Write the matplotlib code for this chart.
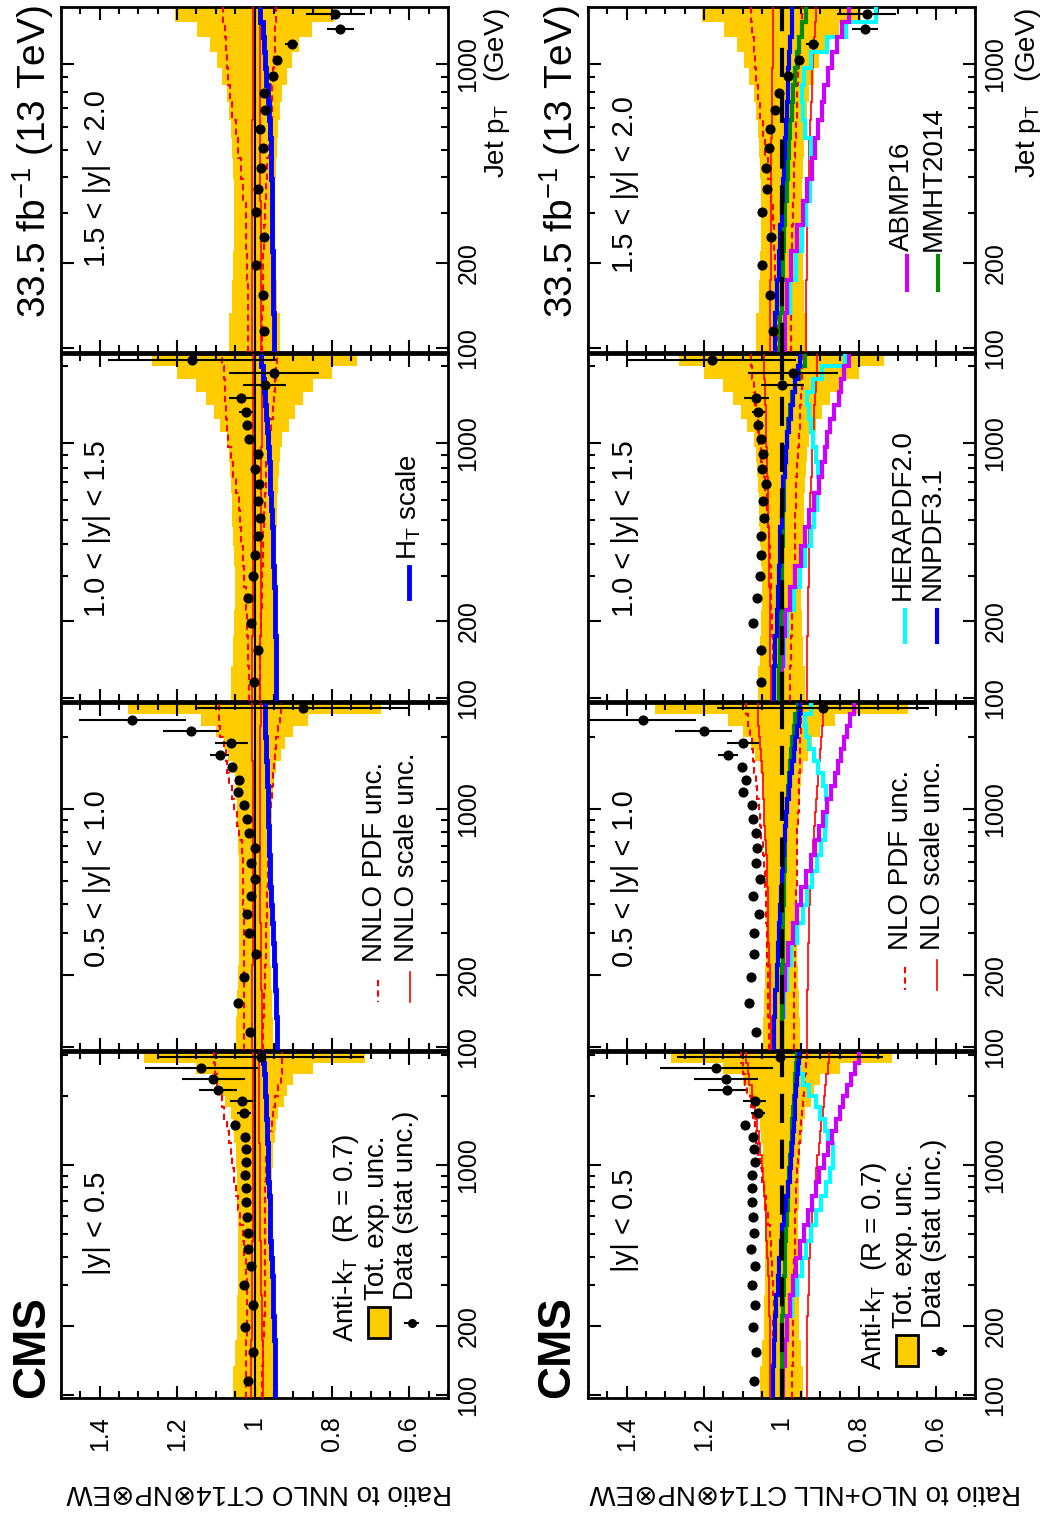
import numpy as np
import matplotlib
matplotlib.use("Agg")
import matplotlib.pyplot as plt
from matplotlib.patches import Rectangle
from matplotlib.ticker import FixedLocator, FixedFormatter, NullFormatter

plt.rcParams['font.family'] = ['Liberation Sans', 'DejaVu Sans']
plt.rcParams['mathtext.default'] = 'regular'

# jet pT bin edges (GeV); rapidity bin k uses the first len(data)+1 edges
pt_edges = [97, 133, 174, 220, 272, 330, 395, 468, 548, 638, 737, 846, 967,
            1101, 1248, 1410, 1588, 1784, 2000, 2238, 2500, 2787, 3103]
pt_max = [3103, 2787, 2238, 1588]
rap_labels = ['|y| < 0.5', '0.5 < |y| < 1.0', '1.0 < |y| < 1.5', '1.5 < |y| < 2.0']

# ---- total experimental uncertainty (half width) and stat unc. of data
band_1 = [0.055, 0.050, 0.046, 0.044, 0.043, 0.042, 0.042, 0.042, 0.043, 0.044, 0.045,
          0.046, 0.047, 0.049, 0.052, 0.056, 0.062, 0.075, 0.085, 0.100, 0.150, 0.285]
band_2 = [0.048, 0.046, 0.043, 0.041, 0.040, 0.040, 0.040, 0.040, 0.041, 0.042, 0.043,
          0.044, 0.046, 0.048, 0.050, 0.056, 0.068, 0.080, 0.100, 0.138, 0.327]
band_3 = [0.060, 0.055, 0.052, 0.050, 0.050, 0.052, 0.055, 0.057, 0.059, 0.060, 0.063,
          0.066, 0.070, 0.088, 0.105, 0.125, 0.150, 0.200, 0.265]
band_4 = [0.066, 0.058, 0.055, 0.054, 0.054, 0.054, 0.055, 0.057, 0.060, 0.066, 0.072,
          0.085, 0.097, 0.115, 0.148, 0.205]
stat_1 = [0.001, 0.001, 0.001, 0.001, 0.001, 0.001, 0.001, 0.001, 0.001, 0.002, 0.002,
          0.003, 0.003, 0.004, 0.005, 0.007, 0.018, 0.030, 0.049, 0.082, 0.145, 0.266]
stat_2 = [0.001, 0.001, 0.001, 0.001, 0.001, 0.001, 0.001, 0.001, 0.002, 0.002, 0.002,
          0.003, 0.003, 0.004, 0.005, 0.008, 0.025, 0.042, 0.073, 0.138, 0.273]
stat_3 = [0.001, 0.001, 0.001, 0.001, 0.001, 0.002, 0.002, 0.002, 0.002, 0.003, 0.003,
          0.004, 0.005, 0.008, 0.017, 0.032, 0.056, 0.116, 0.217]
stat_4 = [0.001, 0.001, 0.001, 0.002, 0.002, 0.002, 0.002, 0.003, 0.003, 0.004, 0.005,
          0.007, 0.010, 0.017, 0.034, 0.077]

# ---- ratio to NNLO CT14 (top row of original = left column here)
nnlo_data_1 = [1.018, 1.003, 1.024, 1.005, 1.027, 1.010, 1.017, 1.018, 1.020, 1.023, 1.023,
               1.024, 1.023, 1.023, 1.024, 1.050, 1.027, 1.033, 1.094, 1.106, 1.137, 0.984]
nnlo_data_2 = [1.011, 1.043, 1.026, 0.996, 1.015, 1.020, 1.008, 1.000, 1.009, 0.998, 1.015,
               1.020, 1.026, 1.043, 1.040, 1.059, 1.090, 1.060, 1.164, 1.316, 0.875]
nnlo_data_3 = [1.002, 0.990, 1.010, 1.016, 1.004, 1.000, 0.990, 0.987, 0.990, 0.989, 1.000,
               0.990, 1.013, 1.020, 1.022, 1.034, 0.974, 0.950, 1.161]
nnlo_data_4 = [0.976, 0.978, 0.997, 0.976, 0.996, 0.991, 0.982, 0.978, 0.986, 0.972, 0.976,
               0.953, 0.941, 0.904, 0.778, 0.791]

nnlo_pdf_up_1 = [1.023, 1.022, 1.020, 1.019, 1.019, 1.022, 1.026, 1.030, 1.037, 1.043, 1.047,
                 1.053, 1.058, 1.062, 1.066, 1.071, 1.079, 1.085, 1.092, 1.098, 1.102, 1.105]
nnlo_pdf_dn_1 = [0.980, 0.978, 0.976, 0.974, 0.973, 0.972, 0.972, 0.972, 0.972, 0.972, 0.972,
                 0.971, 0.969, 0.966, 0.962, 0.956, 0.951, 0.946, 0.939, 0.932, 0.930, 0.929]
nnlo_pdf_up_2 = [1.026, 1.026, 1.027, 1.027, 1.028, 1.028, 1.029, 1.030, 1.030, 1.033, 1.040,
                 1.046, 1.053, 1.059, 1.065, 1.070, 1.074, 1.080, 1.088, 1.091, 1.092]
nnlo_pdf_dn_2 = [0.977, 0.975, 0.973, 0.971, 0.969, 0.968, 0.967, 0.966, 0.965, 0.964, 0.962,
                 0.960, 0.957, 0.955, 0.953, 0.950, 0.947, 0.944, 0.940, 0.935, 0.931]
nnlo_pdf_up_3 = [1.013, 1.017, 1.020, 1.023, 1.026, 1.030, 1.034, 1.037, 1.040, 1.047, 1.055,
                 1.062, 1.069, 1.071, 1.073, 1.075, 1.077, 1.080, 1.083]
nnlo_pdf_dn_3 = [0.987, 0.985, 0.983, 0.981, 0.980, 0.979, 0.977, 0.975, 0.973, 0.971, 0.969,
                 0.965, 0.960, 0.957, 0.953, 0.950, 0.947, 0.944, 0.942]
nnlo_pdf_up_4 = [1.016, 1.018, 1.019, 1.021, 1.023, 1.029, 1.036, 1.042, 1.049, 1.058, 1.064,
                 1.068, 1.071, 1.074, 1.077, 1.082]
nnlo_pdf_dn_4 = [0.980, 0.979, 0.977, 0.976, 0.973, 0.970, 0.967, 0.963, 0.959, 0.956, 0.954,
                 0.952, 0.950, 0.948, 0.946, 0.944]

nnlo_sc_up_1 = [1.008, 1.008, 1.007, 1.007, 1.006, 1.006, 1.006, 1.005, 1.005, 1.005, 1.005,
                1.004, 1.004, 1.004, 1.004, 1.004, 1.004, 1.004, 1.004, 1.004, 1.004, 1.004]
nnlo_sc_dn_1 = [0.978, 0.979, 0.980, 0.981, 0.982, 0.983, 0.984, 0.985, 0.985, 0.986, 0.986,
                0.987, 0.987, 0.987, 0.988, 0.988, 0.988, 0.988, 0.988, 0.988, 0.988, 0.988]
nnlo_sc_up_2 = [1.006, 1.006, 1.006, 1.005, 1.005, 1.005, 1.005, 1.005, 1.005, 1.005, 1.005,
                1.005, 1.005, 1.005, 1.005, 1.005, 1.006, 1.006, 1.006, 1.006, 1.006]
nnlo_sc_dn_2 = [0.980, 0.981, 0.982, 0.983, 0.984, 0.985, 0.986, 0.986, 0.987, 0.987, 0.987,
                0.987, 0.987, 0.987, 0.986, 0.986, 0.986, 0.985, 0.985, 0.984, 0.984]
nnlo_sc_up_3 = [1.006, 1.006, 1.005, 1.005, 1.005, 1.005, 1.005, 1.004, 1.004, 1.004, 1.004,
                1.004, 1.004, 1.004, 1.004, 1.004, 1.004, 1.004, 1.004]
nnlo_sc_dn_3 = [0.985, 0.985, 0.984, 0.984, 0.984, 0.983, 0.983, 0.983, 0.983, 0.982, 0.982,
                0.982, 0.981, 0.981, 0.981, 0.980, 0.980, 0.979, 0.979]
nnlo_sc_up_4 = [1.006, 1.006, 1.006, 1.006, 1.006, 1.006, 1.006, 1.006, 1.006, 1.005, 1.005,
                1.005, 1.005, 1.005, 1.005, 1.005]
nnlo_sc_dn_4 = [0.983, 0.983, 0.984, 0.984, 0.984, 0.985, 0.985, 0.985, 0.985, 0.986, 0.986,
                0.986, 0.986, 0.987, 0.987, 0.987]

ht_1 = [0.946, 0.947, 0.949, 0.951, 0.953, 0.955, 0.957, 0.959, 0.960, 0.961, 0.963,
        0.964, 0.965, 0.966, 0.967, 0.968, 0.969, 0.971, 0.972, 0.974, 0.976, 0.977]
ht_2 = [0.942, 0.945, 0.947, 0.949, 0.952, 0.955, 0.957, 0.959, 0.961, 0.962, 0.963,
        0.964, 0.965, 0.966, 0.967, 0.968, 0.970, 0.971, 0.972, 0.973, 0.974]
ht_3 = [0.944, 0.945, 0.946, 0.948, 0.950, 0.952, 0.953, 0.955, 0.958, 0.960, 0.961,
        0.963, 0.966, 0.968, 0.970, 0.972, 0.975, 0.978, 0.983]
ht_4 = [0.950, 0.952, 0.953, 0.954, 0.955, 0.956, 0.957, 0.958, 0.959, 0.962, 0.966,
        0.970, 0.972, 0.975, 0.978, 0.985]

# ---- ratio to NLO+NLL CT14 (bottom row of original = right column here)
nlo_data_1 = [1.070, 1.066, 1.073, 1.069, 1.077, 1.069, 1.080, 1.071, 1.073, 1.075, 1.075,
              1.077, 1.069, 1.071, 1.073, 1.095, 1.060, 1.069, 1.141, 1.143, 1.168, 1.003]
nlo_data_2 = [1.067, 1.084, 1.080, 1.072, 1.072, 1.059, 1.073, 1.056, 1.066, 1.063, 1.067,
              1.073, 1.076, 1.100, 1.091, 1.102, 1.138, 1.099, 1.201, 1.358, 0.893]
nlo_data_3 = [1.054, 1.054, 1.073, 1.063, 1.056, 1.053, 1.052, 1.046, 1.048, 1.041, 1.050,
              1.047, 1.053, 1.060, 1.060, 1.065, 0.998, 0.970, 1.179]
nlo_data_4 = [1.023, 1.031, 1.051, 1.027, 1.051, 1.038, 1.040, 1.033, 1.029, 1.018, 1.007,
              0.983, 0.954, 0.919, 0.785, 0.780]

nlo_pdf_up_1 = [1.025, 1.023, 1.021, 1.020, 1.022, 1.025, 1.028, 1.031, 1.036, 1.040, 1.045,
                1.050, 1.055, 1.060, 1.065, 1.069, 1.074, 1.080, 1.089, 1.095, 1.100, 1.104]
nlo_pdf_dn_1 = [0.972, 0.971, 0.970, 0.969, 0.968, 0.967, 0.966, 0.965, 0.964, 0.963, 0.962,
                0.960, 0.958, 0.955, 0.953, 0.950, 0.948, 0.945, 0.942, 0.939, 0.937, 0.935]
nlo_pdf_up_2 = [1.033, 1.034, 1.036, 1.037, 1.038, 1.040, 1.041, 1.043, 1.046, 1.049, 1.052,
                1.055, 1.059, 1.063, 1.066, 1.070, 1.073, 1.077, 1.082, 1.087, 1.091]
nlo_pdf_dn_2 = [0.968, 0.967, 0.966, 0.965, 0.964, 0.963, 0.962, 0.961, 0.961, 0.960, 0.959,
                0.958, 0.956, 0.955, 0.954, 0.953, 0.952, 0.951, 0.950, 0.949, 0.948]
nlo_pdf_up_3 = [1.020, 1.023, 1.025, 1.027, 1.028, 1.030, 1.032, 1.035, 1.038, 1.042, 1.046,
                1.052, 1.059, 1.062, 1.065, 1.068, 1.072, 1.076, 1.079]
nlo_pdf_dn_3 = [0.977, 0.975, 0.973, 0.970, 0.968, 0.966, 0.965, 0.964, 0.963, 0.962, 0.960,
                0.957, 0.955, 0.953, 0.951, 0.950, 0.948, 0.947, 0.945]
nlo_pdf_up_4 = [1.011, 1.013, 1.016, 1.019, 1.023, 1.028, 1.036, 1.043, 1.049, 1.055, 1.060,
                1.065, 1.069, 1.072, 1.075, 1.079]
nlo_pdf_dn_4 = [0.976, 0.975, 0.973, 0.972, 0.970, 0.968, 0.967, 0.965, 0.963, 0.961, 0.959,
                0.957, 0.954, 0.952, 0.950, 0.948]

nlo_sc_up_1 = [1.029, 1.030, 1.031, 1.032, 1.033, 1.035, 1.037, 1.039, 1.040, 1.042, 1.045,
               1.048, 1.051, 1.055, 1.058, 1.063, 1.068, 1.073, 1.077, 1.083, 1.087, 1.091]
nlo_sc_dn_1 = [0.935, 0.935, 0.934, 0.932, 0.930, 0.928, 0.926, 0.923, 0.921, 0.918, 0.914,
               0.910, 0.907, 0.904, 0.900, 0.897, 0.894, 0.891, 0.888, 0.884, 0.880, 0.877]
nlo_sc_up_2 = [1.028, 1.030, 1.031, 1.033, 1.034, 1.035, 1.036, 1.037, 1.038, 1.041, 1.043,
               1.044, 1.045, 1.047, 1.049, 1.051, 1.054, 1.056, 1.058, 1.060, 1.061]
nlo_sc_dn_2 = [0.934, 0.933, 0.932, 0.931, 0.930, 0.928, 0.927, 0.924, 0.921, 0.918, 0.915,
               0.913, 0.910, 0.907, 0.905, 0.902, 0.900, 0.898, 0.896, 0.894, 0.892]
nlo_sc_up_3 = [1.028, 1.029, 1.030, 1.031, 1.032, 1.033, 1.033, 1.034, 1.035, 1.036, 1.037,
               1.038, 1.039, 1.040, 1.041, 1.042, 1.043, 1.044, 1.045]
nlo_sc_dn_3 = [0.934, 0.933, 0.932, 0.931, 0.930, 0.929, 0.928, 0.927, 0.926, 0.924, 0.922,
               0.920, 0.918, 0.916, 0.915, 0.913, 0.911, 0.909, 0.908]
nlo_sc_up_4 = [1.029, 1.029, 1.028, 1.028, 1.027, 1.027, 1.026, 1.026, 1.025, 1.025, 1.024,
               1.024, 1.023, 1.023, 1.022, 1.021]
nlo_sc_dn_4 = [0.937, 0.936, 0.935, 0.935, 0.933, 0.932, 0.930, 0.928, 0.926, 0.924, 0.922,
               0.920, 0.918, 0.915, 0.913, 0.912]

hera_1 = [1.000, 0.997, 0.985, 0.972, 0.959, 0.947, 0.937, 0.923, 0.910, 0.897, 0.884,
          0.875, 0.868, 0.868, 0.880, 0.888, 0.901, 0.910, 0.930, 0.945, 0.954, 0.959]
hera_2 = [0.998, 0.994, 0.985, 0.975, 0.960, 0.945, 0.933, 0.920, 0.908, 0.897, 0.888,
          0.884, 0.882, 0.885, 0.893, 0.905, 0.916, 0.928, 0.937, 0.940, 0.925]
hera_3 = [1.005, 0.994, 0.985, 0.967, 0.953, 0.938, 0.925, 0.916, 0.908, 0.904, 0.905,
          0.910, 0.918, 0.925, 0.929, 0.933, 0.918, 0.895, 0.835]
hera_4 = [0.990, 0.978, 0.962, 0.948, 0.936, 0.926, 0.921, 0.925, 0.940, 0.945, 0.947,
          0.943, 0.925, 0.882, 0.833, 0.757]

abmp_1 = [0.995, 0.990, 0.985, 0.978, 0.970, 0.963, 0.953, 0.943, 0.932, 0.922, 0.912,
          0.902, 0.890, 0.880, 0.870, 0.860, 0.850, 0.840, 0.830, 0.820, 0.810, 0.800]
abmp_2 = [1.000, 0.997, 0.992, 0.982, 0.970, 0.960, 0.950, 0.937, 0.925, 0.913, 0.902,
          0.893, 0.883, 0.873, 0.863, 0.853, 0.846, 0.838, 0.830, 0.822, 0.813]
abmp_3 = [1.000, 0.995, 0.990, 0.978, 0.964, 0.950, 0.940, 0.928, 0.915, 0.904, 0.896,
          0.888, 0.882, 0.874, 0.864, 0.852, 0.845, 0.839, 0.825]
abmp_4 = [0.992, 0.987, 0.976, 0.960, 0.945, 0.933, 0.922, 0.914, 0.905, 0.896, 0.890,
          0.880, 0.870, 0.857, 0.843, 0.825]

nnpdf_1 = [1.023, 1.020, 1.017, 1.013, 1.010, 1.006, 1.002, 0.998, 0.993, 0.988, 0.983,
           0.978, 0.975, 0.972, 0.970, 0.968, 0.966, 0.964, 0.962, 0.960, 0.958, 0.955]
nnpdf_2 = [1.020, 1.016, 1.012, 1.010, 1.007, 1.004, 1.002, 0.999, 0.996, 0.993, 0.990,
           0.988, 0.985, 0.981, 0.977, 0.972, 0.968, 0.964, 0.960, 0.956, 0.953]
nnpdf_3 = [1.020, 1.016, 1.012, 1.010, 1.007, 1.005, 1.003, 1.000, 0.997, 0.995, 0.992,
           0.989, 0.985, 0.980, 0.975, 0.970, 0.964, 0.958, 0.953]
nnpdf_4 = [1.016, 1.012, 1.007, 1.003, 0.999, 0.996, 0.993, 0.990, 0.988, 0.986, 0.984,
           0.982, 0.980, 0.977, 0.974, 0.972]

mmht_1 = [1.000, 0.999, 0.998, 0.996, 0.994, 0.992, 0.990, 0.988, 0.986, 0.984, 0.982,
          0.980, 0.978, 0.976, 0.974, 0.972, 0.970, 0.968, 0.966, 0.964, 0.962, 0.960]
mmht_2 = [1.000, 0.999, 0.998, 0.997, 0.996, 0.995, 0.994, 0.993, 0.992, 0.991, 0.990,
          0.988, 0.986, 0.984, 0.981, 0.978, 0.975, 0.972, 0.968, 0.964, 0.958]
mmht_3 = [1.006, 1.004, 1.002, 1.000, 0.999, 0.998, 0.997, 0.996, 0.994, 0.993, 0.991,
          0.989, 0.986, 0.983, 0.979, 0.974, 0.966, 0.955, 0.940]
mmht_4 = [1.003, 1.000, 0.996, 0.993, 0.990, 0.987, 0.984, 0.980, 0.977, 0.973, 0.970,
          0.966, 0.961, 0.955, 0.947, 0.937]

YELLOW = '#FFCC00'
CYAN, MAGENTA, BLUE, GREEN = '#00FFFF', '#CC00FF', '#0000FF', '#008C00'

W, H = 1053, 1513
col_x = [61, 588]
col_w = 387
rows = [(1052, 1398), (703, 1050), (354, 701), (7, 352)]   # (top, bottom) in px

fig = plt.figure(figsize=(W / 100, H / 100), dpi=100)


def make_axes(x0, top, bottom, ymax, first):
    ax = fig.add_axes([x0 / W, 1 - bottom / H, col_w / W, (bottom - top) / H])
    ax.set_yscale('log')
    ax.set_ylim(97, ymax)
    ax.set_xlim(1.5, 0.5)
    ax.yaxis.set_major_locator(FixedLocator([100, 200, 1000]))
    ax.yaxis.set_major_formatter(FixedFormatter(['100', '200', '1000']))
    ax.yaxis.set_minor_locator(FixedLocator([300, 400, 500, 600, 700, 800, 900, 2000, 3000]))
    ax.yaxis.set_minor_formatter(NullFormatter())
    ax.xaxis.set_major_locator(FixedLocator([0.6, 0.8, 1.0, 1.2, 1.4]))
    ax.xaxis.set_major_formatter(FixedFormatter(['0.6', '0.8', '1', '1.2', '1.4']))
    ax.xaxis.set_minor_locator(FixedLocator(np.arange(0.5, 1.501, 0.05)))
    ax.tick_params(which='both', direction='in', top=True, bottom=True,
                   left=True, right=True, width=1.5, labelsize=18)
    ax.tick_params(which='major', length=9)
    ax.tick_params(which='minor', length=5)
    ax.tick_params(axis='y', labelleft=False, labelright=True, labelrotation=90, pad=6)
    ax.tick_params(axis='x', labelbottom=first, labelrotation=90, pad=13)
    for t in ax.yaxis.get_major_ticks():
        t.label2.set_va('center')
    for s in ax.spines.values():
        s.set_linewidth(2)
    return ax


def draw(ax, data, stat, band, pdf_up, pdf_dn, sc_up, sc_dn, curves, nlo):
    n = len(data)
    edges = np.array(pt_edges[:n + 1], dtype=float)
    mid = 0.5 * (edges[1:] + edges[:-1])
    band = np.array(band)
    ax.stairs(1 + band, edges, baseline=1 - band, fill=True,
              orientation='horizontal', color=YELLOW, lw=0, zorder=1)
    if not nlo:
        ax.axvline(1, color='k', lw=1.5, zorder=2)
    for vals in (pdf_up, pdf_dn):
        ax.stairs(vals, edges, baseline=None, orientation='horizontal',
                  color='red', ls=(0, (3, 2)), lw=1.5, zorder=3)
    for vals in (sc_up, sc_dn):
        ax.stairs(vals, edges, baseline=None, orientation='horizontal',
                  color='red', lw=1.2, zorder=3)
    for vals, col in curves:
        ax.stairs(vals, edges, baseline=None, orientation='horizontal',
                  color=col, lw=3 if nlo else 3.5, zorder=4)
    if nlo:
        ax.axvline(1, color='k', lw=3, ls=(0, (7, 4)), zorder=5)
    ax.errorbar(data, mid, xerr=stat, fmt='o', color='k', ms=6.3,
                elinewidth=1.5, capsize=0, zorder=6)


nnlo_sets = [
    (nnlo_data_1, stat_1, band_1, nnlo_pdf_up_1, nnlo_pdf_dn_1, nnlo_sc_up_1, nnlo_sc_dn_1, [(ht_1, BLUE)]),
    (nnlo_data_2, stat_2, band_2, nnlo_pdf_up_2, nnlo_pdf_dn_2, nnlo_sc_up_2, nnlo_sc_dn_2, [(ht_2, BLUE)]),
    (nnlo_data_3, stat_3, band_3, nnlo_pdf_up_3, nnlo_pdf_dn_3, nnlo_sc_up_3, nnlo_sc_dn_3, [(ht_3, BLUE)]),
    (nnlo_data_4, stat_4, band_4, nnlo_pdf_up_4, nnlo_pdf_dn_4, nnlo_sc_up_4, nnlo_sc_dn_4, [(ht_4, BLUE)]),
]
nlo_sets = [
    (nlo_data_1, stat_1, band_1, nlo_pdf_up_1, nlo_pdf_dn_1, nlo_sc_up_1, nlo_sc_dn_1,
     [(hera_1, CYAN), (abmp_1, MAGENTA), (mmht_1, GREEN), (nnpdf_1, BLUE)]),
    (nlo_data_2, stat_2, band_2, nlo_pdf_up_2, nlo_pdf_dn_2, nlo_sc_up_2, nlo_sc_dn_2,
     [(hera_2, CYAN), (abmp_2, MAGENTA), (mmht_2, GREEN), (nnpdf_2, BLUE)]),
    (nlo_data_3, stat_3, band_3, nlo_pdf_up_3, nlo_pdf_dn_3, nlo_sc_up_3, nlo_sc_dn_3,
     [(hera_3, CYAN), (abmp_3, MAGENTA), (mmht_3, GREEN), (nnpdf_3, BLUE)]),
    (nlo_data_4, stat_4, band_4, nlo_pdf_up_4, nlo_pdf_dn_4, nlo_sc_up_4, nlo_sc_dn_4,
     [(hera_4, CYAN), (abmp_4, MAGENTA), (mmht_4, GREEN), (nnpdf_4, BLUE)]),
]

for c, sets in enumerate([nnlo_sets, nlo_sets]):
    for k, s in enumerate(sets):
        ax = make_axes(col_x[c], rows[k][0], rows[k][1], pt_max[k], k == 0)
        draw(ax, *s, nlo=(c == 1))

# overlay in pixel coordinates for titles and legends
ov = fig.add_axes([0, 0, 1, 1], zorder=10)
ov.set_xlim(0, W)
ov.set_ylim(H, 0)
ov.axis('off')

vt = dict(rotation=90, ha='center', va='bottom')
for cx, title in ((259, 'Ratio to NNLO CT14⊗NP⊗EW'), (805, 'Ratio to NLO+NLL CT14⊗NP⊗EW')):
    ov.text(cx, 1492, title, rotation=180, ha='center', va='center', fontsize=20)
for cx in (32, 557):
    ov.text(cx, 1398, 'CMS', fontsize=33, fontweight='bold', **vt)
for cx in (33, 560):
    ov.text(cx, 5, '33.5 fb$^{-1}$ (13 TeV)', rotation=90, ha='center', va='top', fontsize=28)
for cx in (497, 1028):
    ov.text(cx, 7, 'Jet p$_{T}$   (GeV)', rotation=90, ha='center', va='top', fontsize=20)

for lab, yl, yr in zip(rap_labels, [1275, 967, 617, 267], [1272, 967, 617, 273]):
    ov.text(97, yl, lab, fontsize=21, **vt)
    ov.text(625, yr, lab, fontsize=21, **vt)

# legend, |y| < 0.5 panels
for dx, dy in ((0, 0), (528, 28)):
    ov.text(346 + dx, 1342 + dy, 'Anti-k$_{T}$  (R = 0.7)', fontsize=20, **vt)
    ov.add_patch(Rectangle((368 + dx, 1307 + dy), 22, 31, facecolor=YELLOW, edgecolor='k', lw=2))
    ov.text(377 + dx, 1300 + dy, 'Tot. exp. unc.', fontsize=20, **vt)
    ov.plot([405 + dx, 418 + dx], [1323 + dy, 1323 + dy], color='k', lw=1.5)
    ov.plot([411.5 + dx], [1323 + dy], 'o', color='k', ms=5.5)
    ov.text(406 + dx, 1300 + dy, 'Data (stat unc.)', fontsize=20, **vt)

# legend, theory uncertainties
ov.plot([378, 378], [980, 1002], color='red', ls=(0, (3, 2)), lw=1.5)
ov.text(375, 962, 'NNLO PDF unc.', fontsize=20, **vt)
ov.plot([410, 410], [972, 1002], color='red', lw=1.2)
ov.text(407, 962, 'NNLO scale unc.', fontsize=20, **vt)
ov.plot([409, 409], [567, 598], color=BLUE, lw=3.5)
ov.text(409, 560, 'H$_{T}$ scale', fontsize=20, **vt)

ov.plot([905, 905], [967, 990], color='red', ls=(0, (3, 2)), lw=1.5)
ov.text(901, 950, 'NLO PDF unc.', fontsize=20, **vt)
ov.plot([937, 937], [960, 990], color='red', lw=1.2)
ov.text(933, 950, 'NLO scale unc.', fontsize=20, **vt)
ov.plot([905, 905], [610, 642], color=CYAN, lw=3)
ov.text(903, 600, 'HERAPDF2.0', fontsize=20, **vt)
ov.plot([937, 937], [610, 642], color=BLUE, lw=3)
ov.text(933, 600, 'NNPDF3.1', fontsize=20, **vt)
ov.plot([907, 907], [256, 290], color=MAGENTA, lw=3)
ov.text(902, 251, 'ABMP16', fontsize=20, **vt)
ov.plot([938, 938], [256, 290], color=GREEN, lw=3)
ov.text(934, 251, 'MMHT2014', fontsize=20, **vt)

fig.savefig('out.png', dpi=100)
